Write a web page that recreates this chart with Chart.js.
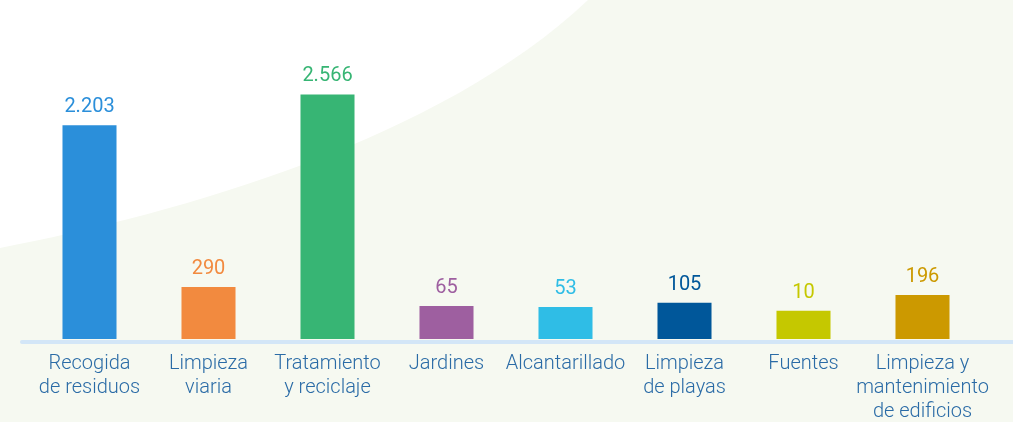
<!DOCTYPE html>
<html>
<head>
<meta charset="utf-8">
<script src="https://cdn.jsdelivr.net/npm/chart.js@4"></script>
<style>
  html, body { margin: 0; padding: 0; background: #fff; }
  #wrap { width: 1013px; height: 422px; position: relative; }
</style>
</head>
<body>
<div id="wrap"><canvas id="serviciosChart"></canvas></div>
<script>
// categorias y valores
const categorias = [
    ['Recogida', 'de residuos'],
    ['Limpieza', 'viaria'],
    ['Tratamiento', 'y reciclaje'],
    ['Jardines'],
    ['Alcantarillado'],
    ['Limpieza', 'de playas'],
    ['Fuentes'],
    ['Limpieza y', 'mantenimiento', 'de edificios']
];
const valores = [2203, 290, 2566, 65, 53, 105, 10, 196];
const colores = ['#2b8fda', '#f28a3f', '#37b574', '#9e5fa0', '#2fbde6', '#00579a', '#c5c800', '#cc9900'];

// el eje no empieza en cero en el original
const ejeMin = -325;
const ejeMax = 3210;

function formato(n) {
    return String(n).replace(/\B(?=(\d{3})+(?!\d))/g, '.');
}

// fondo con la curva verde clara
const fondo = {
    id: 'fondo',
    beforeDraw(chart) {
        const ctx = chart.ctx;
        const w = chart.width, h = chart.height;
        ctx.save();
        ctx.fillStyle = '#ffffff';
        ctx.fillRect(0, 0, w, h);
        ctx.beginPath();
        ctx.moveTo(0, 248);
        ctx.bezierCurveTo(180, 213, 440, 140, 588, 0);
        ctx.lineTo(w, 0);
        ctx.lineTo(w, h);
        ctx.lineTo(0, h);
        ctx.closePath();
        ctx.fillStyle = '#f6f9f1';
        ctx.fill();
        ctx.restore();
    }
};

// linea base azul claro
const lineaBase = {
    id: 'lineaBase',
    afterDatasetsDraw(chart) {
        const ctx = chart.ctx;
        const y = chart.chartArea.bottom + 3;
        ctx.save();
        ctx.strokeStyle = '#d3e6f7';
        ctx.lineWidth = 4;
        ctx.lineCap = 'round';
        ctx.beginPath();
        ctx.moveTo(22, y);
        ctx.lineTo(chart.width + 5, y);
        ctx.stroke();
        ctx.restore();
    }
};

// etiquetas de valor sobre cada barra
const etiquetas = {
    id: 'etiquetas',
    afterDatasetsDraw(chart) {
        const ctx = chart.ctx;
        const meta = chart.getDatasetMeta(0);
        ctx.save();
        ctx.font = '20px Roboto';
        ctx.textAlign = 'center';
        ctx.textBaseline = 'alphabetic';
        meta.data.forEach(function(bar, i) {
            ctx.fillStyle = colores[i];
            ctx.fillText(formato(valores[i]), bar.x, bar.y - 13);
        });
        ctx.restore();
    }
};

const ctx = document.getElementById('serviciosChart').getContext('2d');
const chart = new Chart(ctx, {
    type: 'bar',
    data: {
        labels: categorias,
        datasets: [{
            data: valores,
            backgroundColor: colores,
            base: ejeMin,
            categoryPercentage: 1,
            barPercentage: 0.454
        }]
    },
    options: {
        responsive: true,
        maintainAspectRatio: false,
        animation: false,
        layout: {
            padding: { top: 40, left: 30, right: 31, bottom: -15 }
        },
        plugins: {
            legend: { display: false },
            tooltip: { enabled: false }
        },
        scales: {
            x: {
                grid: { display: false, drawTicks: false },
                border: { display: false },
                ticks: {
                    color: '#2a6ba6',
                    font: { family: 'Roboto', size: 20, weight: 300, lineHeight: 1.2 },
                    padding: 13,
                    maxRotation: 0,
                    autoSkip: false
                }
            },
            y: {
                display: false,
                min: ejeMin,
                max: ejeMax
            }
        }
    },
    plugins: [fondo, lineaBase, etiquetas]
});
</script>
</body>
</html>
